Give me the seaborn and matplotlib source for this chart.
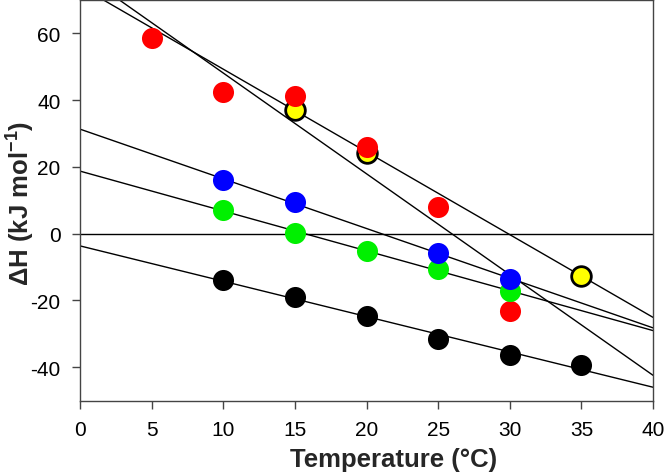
import matplotlib
matplotlib.use("Agg")
import matplotlib.pyplot as plt
import seaborn as sns

# Data (temperature in degC, dH in kJ/mol)
temp_red = [5, 10, 15, 20, 25, 30]
dh_red = [58.6, 42.5, 41.1, 26.0, 8.0, -23.3]

temp_yellow = [15, 20, 35]
dh_yellow = [37.1, 24.2, -12.6]

temp_blue = [10, 15, 25, 30]
dh_blue = [16.1, 9.4, -5.8, -13.5]

temp_green = [10, 15, 20, 25, 30]
dh_green = [7.2, 0.2, -5.3, -10.5, -17.3]

temp_black = [10, 15, 20, 25, 30, 35]
dh_black = [-14.0, -19.0, -24.8, -31.4, -36.2, -39.4]

x_ticks = [0, 5, 10, 15, 20, 25, 30, 35, 40]
y_ticks = [-40, -20, 0, 20, 40, 60]

sns.set_style("white")
plt.rcParams['font.family'] = ['Liberation Sans', 'DejaVu Sans']
plt.rcParams['axes.unicode_minus'] = False
plt.rcParams['mathtext.fontset'] = 'custom'
plt.rcParams['mathtext.rm'] = 'Liberation Sans'
plt.rcParams['mathtext.bf'] = 'Liberation Sans:bold'

fig = plt.figure(figsize=(6.64, 4.77), dpi=100)
ax = fig.add_axes([0.1205, 0.158, 0.863, 0.840])
ax.set_xlim(0, 40)
ax.set_ylim(-50, 70)

ax.axhline(0, color='black', lw=1, zorder=1)

series = [
    (temp_black, dh_black, 'black', 'black'),
    (temp_yellow, dh_yellow, '#ffff00', 'black'),
    (temp_red, dh_red, '#ff0000', '#ff0000'),
    (temp_green, dh_green, '#00f000', '#00f000'),
    (temp_blue, dh_blue, '#0000ff', '#0000ff'),
]

# regression lines first, across the whole axis
for xs, ys, c, ec in series:
    sns.regplot(x=xs, y=ys, ax=ax, scatter=False, ci=None, truncate=False,
                line_kws=dict(color='black', lw=1, zorder=1))

for xs, ys, c, ec in series:
    lw = 2 if ec != c else 0
    sns.scatterplot(x=xs, y=ys, ax=ax, color=c, edgecolor=ec, linewidth=lw,
                    s=200 if lw else 230, zorder=3, legend=False)

ax.set_xlim(0, 40)
ax.set_ylim(-50, 70)
ax.set_xticks(x_ticks)
ax.set_yticks(y_ticks)

for sp in ax.spines.values():
    sp.set_color('#444444')
    sp.set_linewidth(1)

ax.tick_params(axis='both', direction='out', length=6, width=1,
               color='#444444', labelsize=15, pad=8, labelcolor='black')
ax.tick_params(axis='x', bottom=True)
ax.tick_params(axis='y', left=True)

ax.set_xlabel('Temperature (°C)', fontsize=18.5, fontweight='bold')
ax.set_ylabel(r'ΔH (kJ mol$^{\mathbf{-1}}$)', fontsize=18.5, fontweight='bold')
ax.xaxis.set_label_coords(0.547, -0.115)
ax.yaxis.set_label_coords(-0.077, 0.495)

fig.savefig('out.png', dpi=100)
